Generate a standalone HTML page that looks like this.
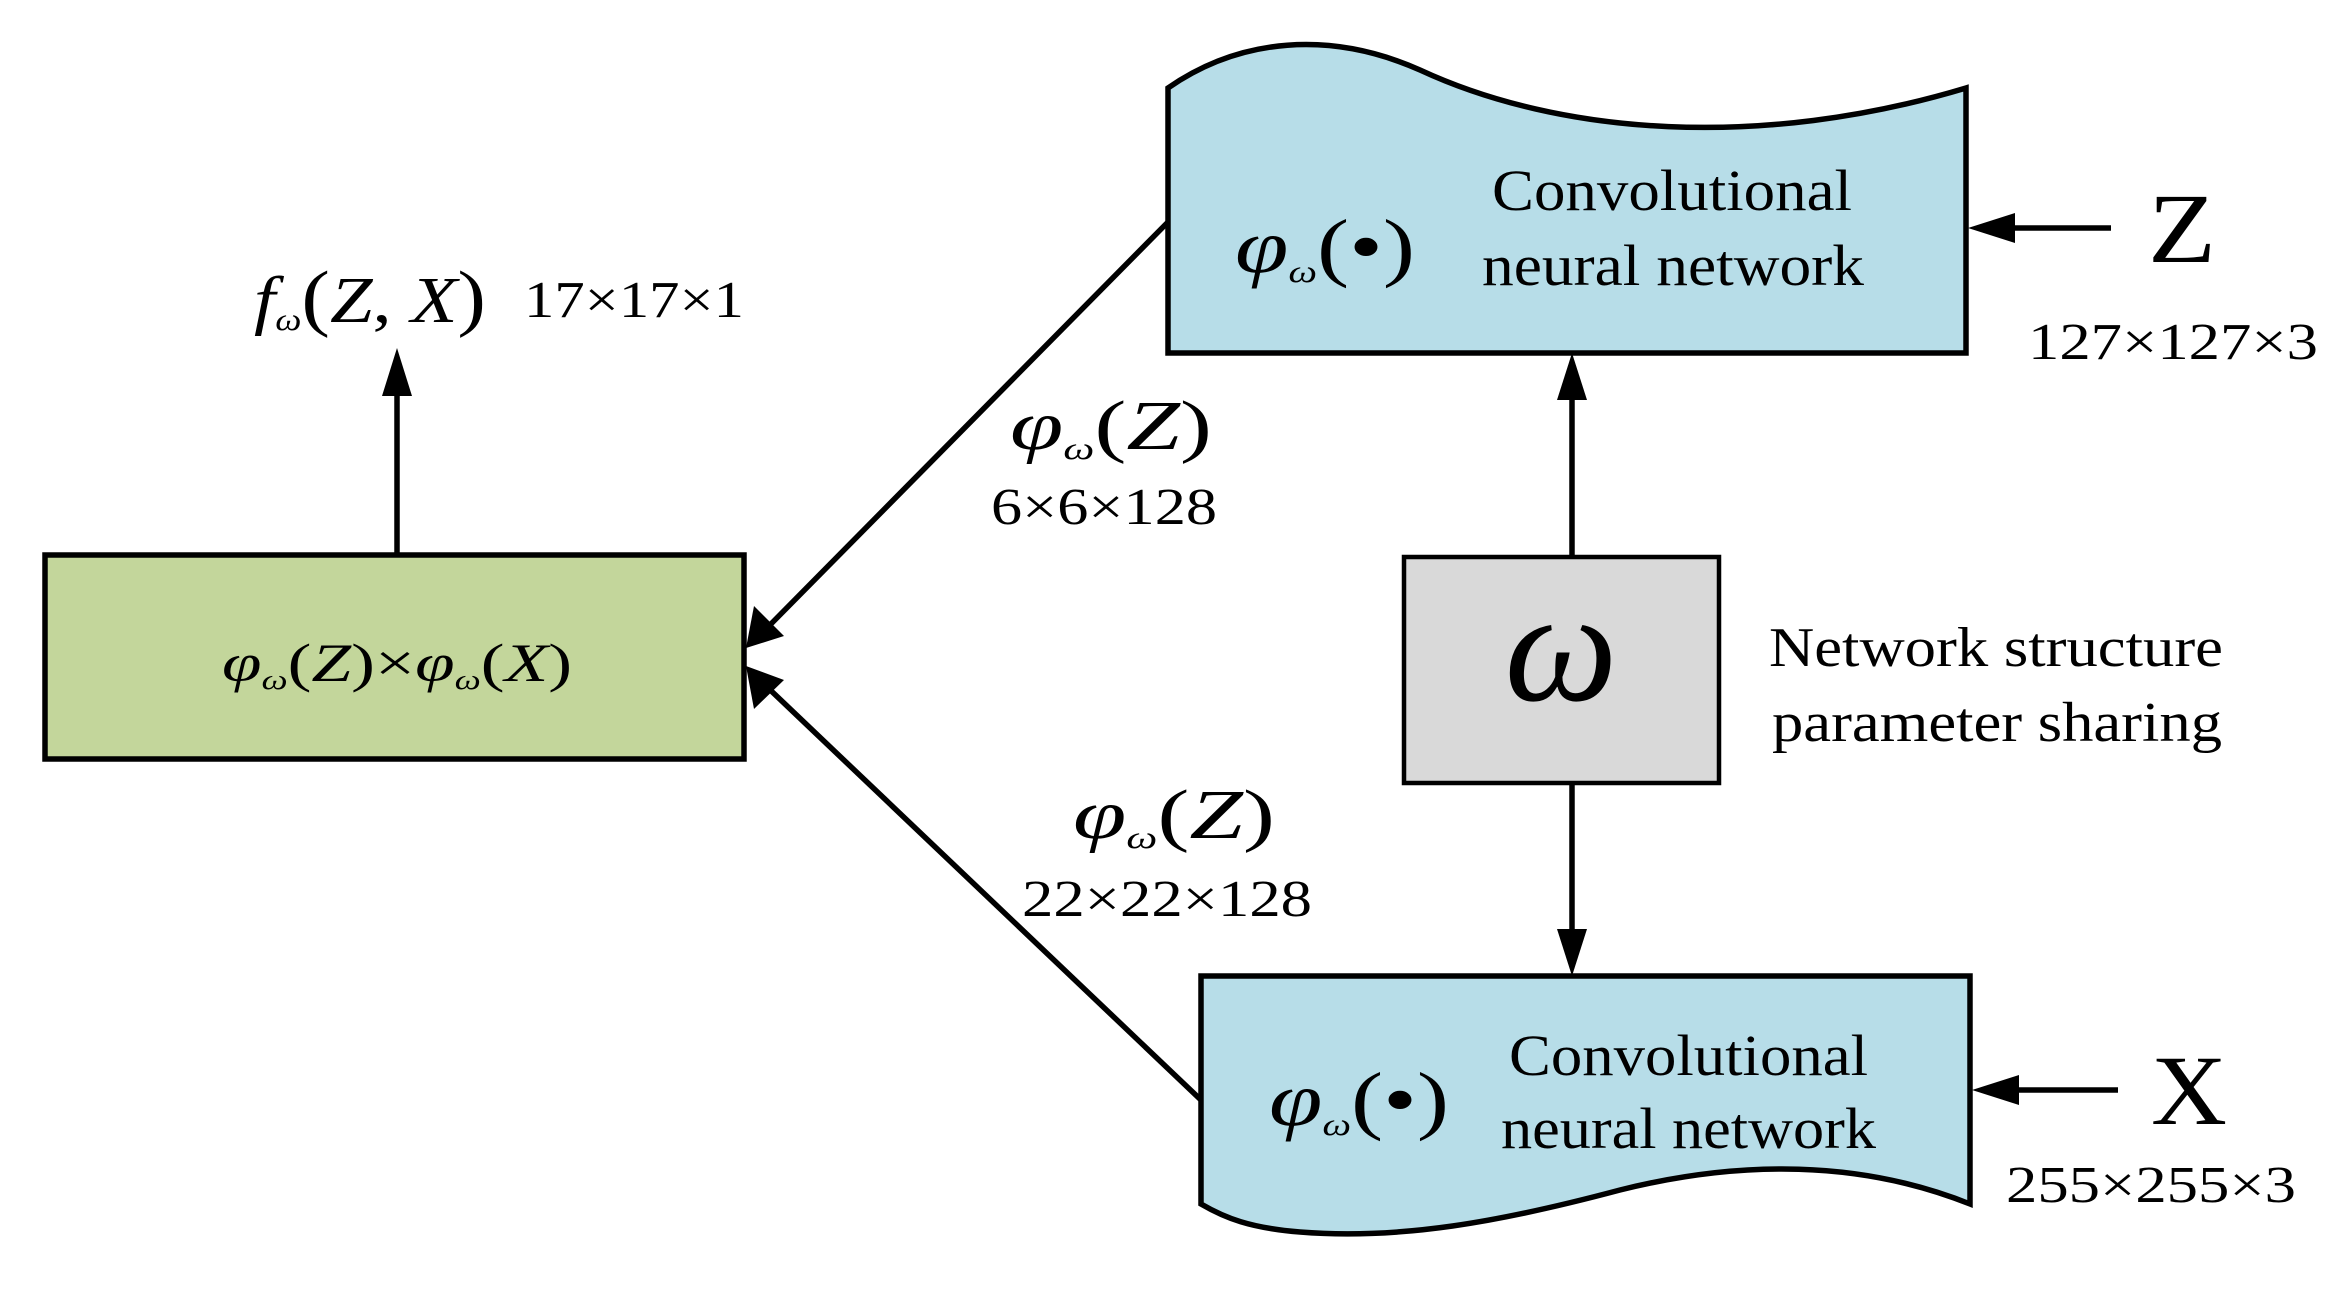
<!DOCTYPE html>
<html><head><meta charset="utf-8"><style>
html,body{margin:0;padding:0;background:#fff}
svg{display:block}
text{font-family:"Liberation Serif",serif;fill:#000;font-weight:normal}
.i{font-style:italic}
</style></head><body>
<svg width="2335" height="1292" viewBox="0 0 2335 1292" xmlns="http://www.w3.org/2000/svg">
<!-- green box -->
<rect x="45" y="555" width="699" height="204" fill="#c3d69b" stroke="#000" stroke-width="5.5"/>
<!-- top CNN box -->
<path d="M1168,88 C1240,38 1330,30 1420,70 C1560,135 1760,150 1966,88 L1966,353 L1168,353 Z" fill="#b7dde8" stroke="#000" stroke-width="5.5"/>
<!-- bottom CNN box -->
<path d="M1201,976 L1970,976 L1970,1204 C1860,1160 1740,1160 1620,1190 C1500,1222 1400,1240 1300,1232 C1250,1228 1225,1218 1201,1204 Z" fill="#b7dde8" stroke="#000" stroke-width="5.5"/>
<!-- omega box -->
<rect x="1404" y="557" width="315" height="226" fill="#d9d9d9" stroke="#000" stroke-width="4.5"/>

<g stroke="#000" stroke-width="5.5" fill="none">
<line x1="397" y1="555" x2="397" y2="390"/>
<line x1="1168" y1="222" x2="765" y2="630"/>
<line x1="1201" y1="1100" x2="765" y2="685"/>
<line x1="1572" y1="557" x2="1572" y2="390"/>
<line x1="1572" y1="783" x2="1572" y2="940"/>
<line x1="2111" y1="228" x2="2000" y2="228"/>
<line x1="2118" y1="1090" x2="2005" y2="1090"/>
</g>
<g fill="#000">
<polygon points="397,348 382,396 412,396"/>
<polygon points="746,648 754,606 784,636"/>
<polygon points="746,666 784,680 754,709"/>
<polygon points="1572,353 1557,400 1587,400"/>
<polygon points="1572,976 1557,929 1587,929"/>
<polygon points="1968,228 2015,213 2015,243"/>
<polygon points="1972,1090 2019,1075 2019,1105"/>
</g>

<!-- labels -->
<text x="254" y="322" font-size="66" textLength="232" lengthAdjust="spacingAndGlyphs"><tspan class="i">f</tspan><tspan class="i" font-size="32" dy="8">ω</tspan><tspan dy="-8" font-size="74">(</tspan><tspan class="i">Z</tspan>, <tspan class="i">X</tspan><tspan font-size="74">)</tspan></text>
<text x="524" y="317" font-size="52" textLength="220" lengthAdjust="spacingAndGlyphs">17×17×1</text>

<text x="222" y="681" font-size="54" textLength="350" lengthAdjust="spacingAndGlyphs"><tspan class="i">φ</tspan><tspan class="i" font-size="28" dy="8">ω</tspan><tspan dy="-8">(</tspan><tspan class="i">Z</tspan>)×<tspan class="i">φ</tspan><tspan class="i" font-size="28" dy="8">ω</tspan><tspan dy="-8">(</tspan><tspan class="i">X</tspan>)</text>

<text x="1010" y="449" font-size="70" textLength="202" lengthAdjust="spacingAndGlyphs"><tspan class="i">φ</tspan><tspan class="i" font-size="32" dy="10">ω</tspan><tspan dy="-10">(</tspan><tspan class="i">Z</tspan>)</text>
<text x="991" y="524" font-size="52" textLength="226" lengthAdjust="spacingAndGlyphs">6×6×128</text>
<text x="1073" y="838" font-size="70" textLength="202" lengthAdjust="spacingAndGlyphs"><tspan class="i">φ</tspan><tspan class="i" font-size="32" dy="10">ω</tspan><tspan dy="-10">(</tspan><tspan class="i">Z</tspan>)</text>
<text x="1022" y="916" font-size="52" textLength="290" lengthAdjust="spacingAndGlyphs">22×22×128</text>

<text x="1235" y="272" font-size="76" textLength="180" lengthAdjust="spacingAndGlyphs"><tspan class="i">φ</tspan><tspan class="i" font-size="32" dy="10">ω</tspan><tspan dy="-10">(•)</tspan></text>
<text x="1492" y="210" font-size="58" textLength="360" lengthAdjust="spacingAndGlyphs">Convolutional</text>
<text x="1482" y="285" font-size="58" textLength="382" lengthAdjust="spacingAndGlyphs">neural network</text>

<text x="1269" y="1125" font-size="76" textLength="180" lengthAdjust="spacingAndGlyphs"><tspan class="i">φ</tspan><tspan class="i" font-size="32" dy="10">ω</tspan><tspan dy="-10">(•)</tspan></text>
<text x="1509" y="1075" font-size="58" textLength="359" lengthAdjust="spacingAndGlyphs">Convolutional</text>
<text x="1501" y="1148" font-size="58" textLength="375" lengthAdjust="spacingAndGlyphs">neural network</text>

<text x="1561" y="700" font-size="160" font-style="italic" text-anchor="middle">ω</text>
<text x="1769" y="666" font-size="56" textLength="454" lengthAdjust="spacingAndGlyphs">Network structure</text>
<text x="1772" y="741" font-size="56" textLength="450" lengthAdjust="spacingAndGlyphs">parameter sharing</text>

<text x="2148" y="262" font-size="100" textLength="68" lengthAdjust="spacingAndGlyphs">Z</text>
<text x="2028" y="359" font-size="52" textLength="290" lengthAdjust="spacingAndGlyphs">127×127×3</text>
<text x="2151" y="1124" font-size="100" textLength="76" lengthAdjust="spacingAndGlyphs">X</text>
<text x="2006" y="1202" font-size="52" textLength="290" lengthAdjust="spacingAndGlyphs">255×255×3</text>
</svg>
</body></html>
